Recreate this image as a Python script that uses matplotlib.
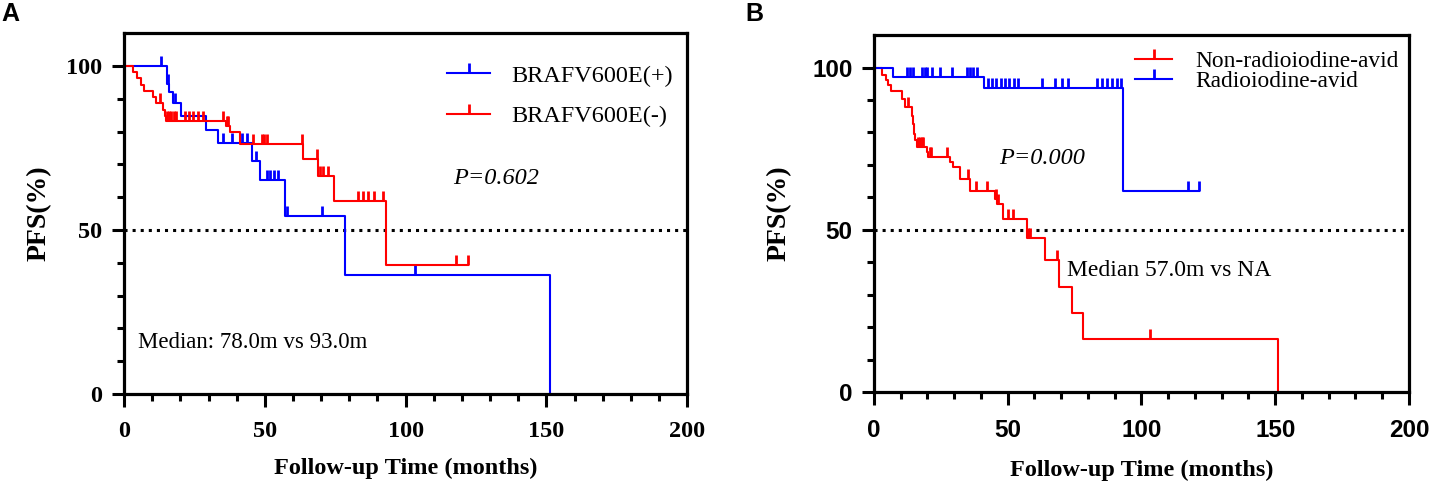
import numpy as np
import matplotlib
matplotlib.use('Agg')
import matplotlib.pyplot as plt
from matplotlib.lines import Line2D
from matplotlib.ticker import MultipleLocator, FixedLocator

plt.rcParams['font.family'] = 'Liberation Serif'

# ---- panel A: BRAFV600E(+) vs BRAFV600E(-)
# event times (months) and PFS (%) right after each event, censor times
posEvtT = [15.2, 15.8, 17.3, 20.1, 29.1, 33.3, 45.4, 48.3, 57.2, 78.3, 151.3]
posEvtS = [94.4, 92.2, 88.6, 84.6, 80.5, 76.4, 71.0, 65.3, 54.4, 36.3, 0.0]
posCensT = [13.3, 15.5, 18.1, 35.3, 38.3, 41.8, 43.6, 47.0, 50.8, 52.0, 53.2,
            54.5, 57.8, 70.2, 103.4]

negEvtT = [3.1, 4.5, 6.0, 7.2, 10.4, 11.2, 14.0, 14.4, 14.8, 36.1, 37.6, 41.2,
           63.7, 68.8, 74.4, 93.0]
negEvtS = [98.1, 96.2, 94.3, 92.4, 90.5, 88.6, 86.6, 84.8, 83.3, 81.6, 79.9,
           76.3, 71.6, 66.3, 58.8, 39.2]
negCensT = [12.8, 15.2, 16.0, 16.8, 17.6, 18.4, 21.8, 23.0, 24.6, 26.4, 28.2,
            35.3, 36.4, 36.9, 45.9, 48.9, 49.8, 50.7, 63.1, 68.4, 69.5, 70.5,
            72.5, 82.9, 84.8, 86.8, 88.8, 92.1, 117.9, 122.3]

# ---- panel B: radioiodine-avid vs non-radioiodine-avid
raiEvtT = [7.0, 41.1, 93.2]
raiEvtS = [97.1, 93.6, 62.0]
raiCensT = [12.5, 13.5, 14.5, 17.8, 19.1, 19.9, 21.6, 24.7, 29.0, 34.6, 35.9,
            37.1, 38.4, 42.7, 44.0, 45.6, 47.3, 49.0, 50.6, 52.3, 54.0, 62.9,
            67.7, 70.2, 72.6, 83.2, 85.1, 87.0, 88.8, 90.7, 92.2, 117.5, 121.5]

nonEvtT = [2.9, 4.5, 5.4, 6.2, 10.3, 11.6, 14.1, 14.5, 14.8, 15.3, 16.0, 19.7,
           20.2, 28.4, 29.4, 32.1, 35.9, 45.2, 46.0, 48.3, 57.1, 63.9, 69.2,
           74.1, 78.0, 151.1]
nonEvtS = [97.8, 96.1, 94.7, 92.7, 90.4, 87.8, 85.2, 82.5, 79.6, 77.8, 75.5,
           73.9, 72.4, 70.8, 69.3, 65.6, 62.0, 59.4, 57.9, 53.3, 47.6, 40.6,
           32.4, 24.3, 16.2, 0.0]
nonCensT = [12.8, 16.5, 17.2, 17.9, 18.4, 20.8, 21.5, 27.2, 35.0, 38.1, 42.1,
            45.6, 46.5, 50.2, 52.1, 57.6, 58.3, 68.3, 103.2]

xTicks = [0, 50, 100, 150, 200]
yTicks = [0, 50, 100]

BLUE = '#0000FF'
RED = '#FF0000'
LW = 1.5


def km_curve(ax, evtT, evtS, censT, color):
    evtT = np.asarray(evtT)
    evtS = np.asarray(evtS)
    censT = np.asarray(censT)
    tEnd = max(evtT.max(), censT.max())
    x = np.concatenate([[0], evtT, [tEnd]])
    y = np.concatenate([[100], evtS, [evtS[-1]]])
    ax.step(x, y, where='post', color=color, lw=LW)
    idx = np.searchsorted(evtT, censT, side='right') - 1
    censS = np.where(idx >= 0, evtS[np.maximum(idx, 0)], 100.0)
    ax.plot(censT, censS, ls='none', marker=2, ms=7, mew=2, color=color)


def style_axes(ax, tickFamily):
    ax.set_xlim(0, 200)
    ax.set_ylim(0, 110)
    ax.set_xticks(xTicks, labels=[str(v) for v in xTicks],
                  fontfamily=tickFamily, fontweight='bold', fontsize=17.5)
    ax.set_yticks(yTicks, labels=[str(v) for v in yTicks],
                  fontfamily=tickFamily, fontweight='bold', fontsize=17.5)
    ax.xaxis.set_minor_locator(MultipleLocator(10))
    ax.yaxis.set_minor_locator(FixedLocator(np.arange(10, 100, 10)))
    for s in ax.spines.values():
        s.set_linewidth(2.3)
    ax.tick_params(which='major', length=9, width=2.2, direction='out')
    ax.tick_params(which='minor', length=5, width=2.2, direction='out')
    ax.tick_params(axis='x', pad=10.5)
    ax.tick_params(axis='y', pad=6.5)
    ax.axhline(50, ls=':', color='k', lw=2.2)
    ax.set_xlabel('Follow-up Time (months)', fontsize=17.5, fontweight='bold',
                  va='top')
    ax.set_ylabel('PFS(%)', fontsize=20, fontweight='bold')


def handle(color):
    return Line2D([], [], color=color, lw=LW, marker=2, ms=7, mew=2)


fig = plt.figure(figsize=(14.37, 4.87), dpi=100)
ax1 = fig.add_axes([0.0863, 0.191, 0.392, 0.741])
ax2 = fig.add_axes([0.6082, 0.195, 0.3723, 0.733])

# panel A
style_axes(ax1, 'Liberation Serif')
km_curve(ax1, posEvtT, posEvtS, posCensT, BLUE)
km_curve(ax1, negEvtT, negEvtS, negCensT, RED)
ax1.xaxis.set_label_coords(0.5, -0.177)
ax1.yaxis.set_label_coords(-0.128, 0.5)
ax1.legend([handle(BLUE), handle(RED)], ['BRAFV600E(+)', 'BRAFV600E(-)'],
           loc='upper left', bbox_to_anchor=(0.574, 0.912), frameon=False,
           fontsize=17.5, numpoints=1, borderpad=0, borderaxespad=0,
           handlelength=1.75, handletextpad=0.9, labelspacing=0.75)
ax1.text(132, 65.7, 'P=0.602', style='italic', fontsize=17.5,
         ha='center', va='center')
ax1.text(5, 15.6, 'Median: 78.0m vs 93.0m', fontsize=16.5,
         ha='left', va='center')

# panel B
style_axes(ax2, 'Liberation Sans')
km_curve(ax2, nonEvtT, nonEvtS, nonCensT, RED)
km_curve(ax2, raiEvtT, raiEvtS, raiCensT, BLUE)
ax2.xaxis.set_label_coords(0.5, -0.19)
ax2.yaxis.set_label_coords(-0.153, 0.5)
ax2.legend([handle(RED), handle(BLUE)],
           ['Non-radioiodine-avid', 'Radioiodine-avid'],
           loc='upper left', bbox_to_anchor=(0.488, 0.957), frameon=False,
           fontsize=16.8, numpoints=1, borderpad=0, borderaxespad=0,
           handlelength=1.6, handletextpad=1.0, labelspacing=-0.05)
ax2.text(62.8, 72.1, 'P=0.000', style='italic', fontsize=17.5,
         ha='center', va='center')
ax2.text(72, 37.5, 'Median 57.0m vs NA', fontsize=17,
         ha='left', va='center')

fig.text(0.001, 0.995, 'A', fontsize=18, fontweight='bold',
         family='Liberation Sans', va='top', ha='left')
fig.text(0.519, 0.995, 'B', fontsize=18, fontweight='bold',
         family='Liberation Sans', va='top', ha='left')

fig.savefig('out.png', dpi=100)
